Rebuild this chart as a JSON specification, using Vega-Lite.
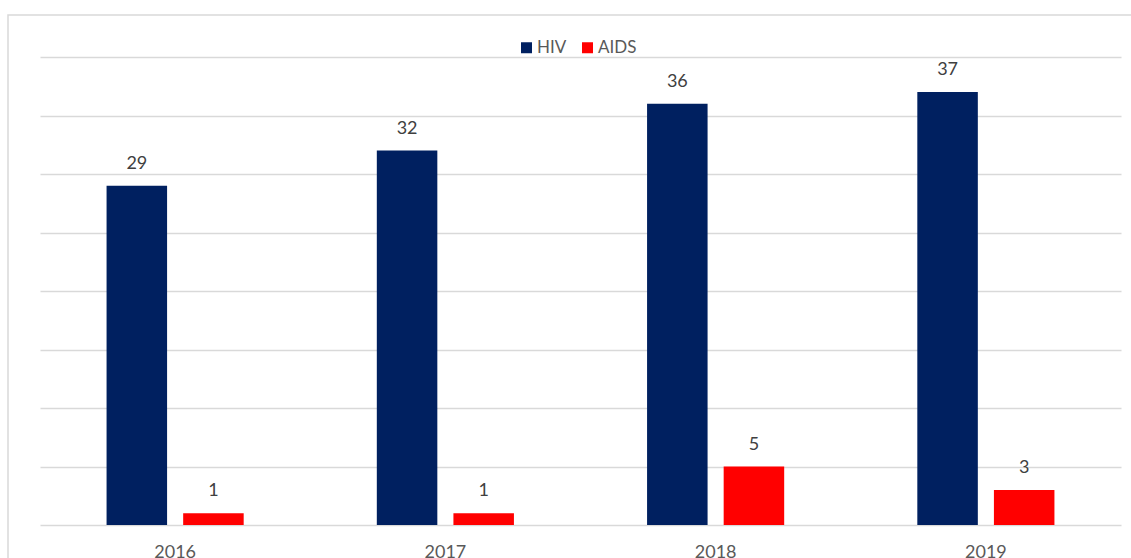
{
  "$schema": "https://vega.github.io/schema/vega-lite/v6.json",
  "autosize": "none",
  "padding": {"left": 8, "top": 15, "right": 0, "bottom": 0},
  "width": 1130,
  "height": 550,
  "background": "white",
  "config": {"view": {"stroke": "#d9d9d9", "strokeWidth": 1.5}, "font": "Lato"},
  "data": {"values": [
    {"year": "2016", "series": "HIV", "value": 29},
    {"year": "2016", "series": "AIDS", "value": 1},
    {"year": "2017", "series": "HIV", "value": 32},
    {"year": "2017", "series": "AIDS", "value": 1},
    {"year": "2018", "series": "HIV", "value": 36},
    {"year": "2018", "series": "AIDS", "value": 5},
    {"year": "2019", "series": "HIV", "value": 37},
    {"year": "2019", "series": "AIDS", "value": 3}
  ]},
  "encoding": {
    "x": {"field": "year", "type": "nominal",
      "scale": {"range": [32, 1113], "paddingInner": 0.4926, "paddingOuter": 0.2463},
      "axis": {"title": null, "labelAngle": 0, "domain": false, "ticks": false, "grid": false, "offset": -40, "labelPadding": 18, "labelFontSize": 18, "labelColor": "#595959", "labelFont": "Lato"}},
    "xOffset": {"field": "series", "type": "nominal", "sort": ["HIV", "AIDS"], "scale": {"paddingInner": 0.21}},
    "y": {"field": "value", "type": "quantitative",
      "scale": {"domain": [0, 40], "range": [510, 42], "nice": false, "zero": true},
      "axis": {"title": null, "labels": false, "ticks": false, "domain": false, "values": [0, 5, 10, 15, 20, 25, 30, 35, 40], "grid": true, "gridColor": "#d9d9d9", "gridWidth": 1.3}}
  },
  "layer": [
    {"mark": {"type": "bar"},
     "encoding": {"color": {"field": "series", "type": "nominal", "sort": ["HIV", "AIDS"],
       "scale": {"domain": ["HIV", "AIDS"], "range": ["#002060", "#FF0000"]},
       "legend": {"orient": "none", "legendX": 510, "legendY": 24, "direction": "horizontal", "title": null,
         "symbolType": "square", "symbolSize": 121, "symbolStrokeWidth": 0, "labelFontSize": 17, "labelColor": "#595959",
         "labelFont": "Lato", "padding": 0, "columnPadding": 12, "labelOffset": 2}}}},
    {"mark": {"type": "text", "dy": -22, "fontSize": 18, "color": "#404040", "font": "Lato"},
     "encoding": {"text": {"field": "value", "type": "quantitative"}}}
  ]
}
